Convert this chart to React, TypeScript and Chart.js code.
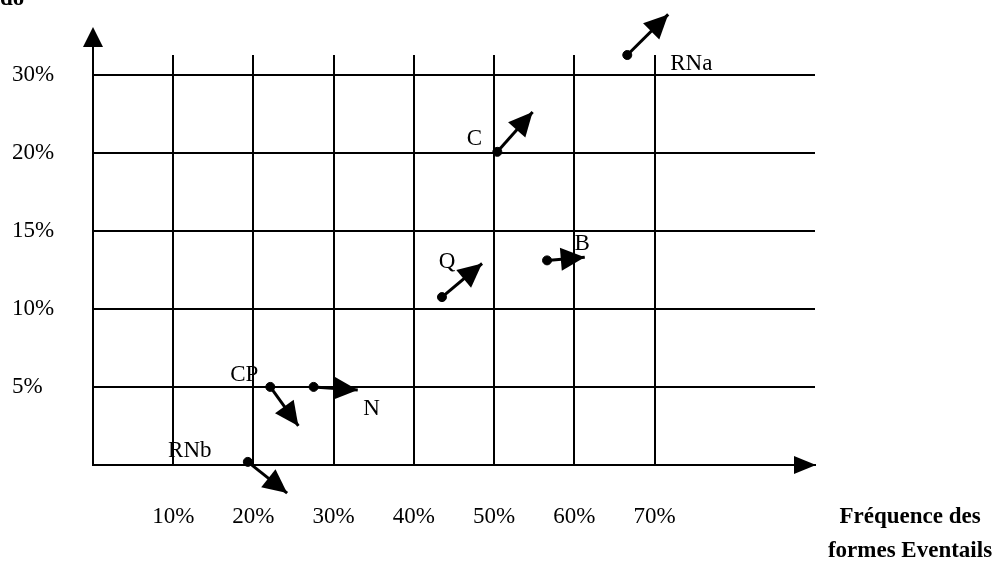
import React, { useEffect, useRef } from "react";
import { Chart, registerables } from "chart.js";

Chart.register(...registerables);

// ---- data ----
const pointNames = ["RNa", "C", "Q", "B", "CP", "N", "RNb"];
const startX = [66.6, 50.4, 43.5, 56.6, 22.1, 27.5, 19.3];
const startY = [32.5, 20.1, 10.75, 13.1, 5.0, 5.0, 0.2];
const endX = [71.7, 54.8, 48.5, 61.3, 25.6, 33.0, 24.2];
const endY = [37.7, 25.2, 12.9, 13.3, 2.5, 4.8, -1.8];

const xTickValues = [0, 10, 20, 30, 40, 50, 60, 70];
const xTickLabels = ["", "10%", "20%", "30%", "40%", "50%", "60%", "70%"];
const yLevels = [0, 5, 10, 15, 20, 30];
const yTickLabels = ["", "5%", "10%", "15%", "20%", "30%"];
const xTitleLines = ["Fréquence des", "formes Eventails"];
const yTitleFragment = "do";

// ---- style / placement (not data) ----
const FONT = "'Liberation Serif', 'Times New Roman', serif";
const labelOffsets: [number, number, CanvasTextAlign][] = [
  [43, 9, "left"],
  [-23, -13, "center"],
  [5, -35, "center"],
  [35, -16, "center"],
  [-26, -12, "center"],
  [58, 22, "center"],
  [-58, -11, "center"],
];

function toIndex(v: number): number {
  const n = yLevels.length;
  if (v <= yLevels[1]) return (v - yLevels[0]) / (yLevels[1] - yLevels[0]);
  for (let i = 1; i < n - 1; i++) {
    if (v <= yLevels[i + 1]) return i + (v - yLevels[i]) / (yLevels[i + 1] - yLevels[i]);
  }
  return n - 1 + (v - yLevels[n - 1]) / (yLevels[n - 1] - yLevels[n - 2]);
}

function tri(ctx: CanvasRenderingContext2D, tipX: number, tipY: number, dx: number, dy: number, len: number, half: number) {
  const d = Math.hypot(dx, dy) || 1;
  const ux = dx / d, uy = dy / d;
  const bx = tipX - ux * len, by = tipY - uy * len;
  ctx.beginPath();
  ctx.moveTo(tipX, tipY);
  ctx.lineTo(bx - uy * half, by + ux * half);
  ctx.lineTo(bx + uy * half, by - ux * half);
  ctx.closePath();
  ctx.fill();
}

const decorPlugin = {
  id: "decor",
  afterDatasetsDraw(chart: any) {
    const ctx: CanvasRenderingContext2D = chart.ctx;
    const area = chart.chartArea;
    ctx.save();
    ctx.fillStyle = "#000";
    ctx.strokeStyle = "#000";
    // arrowheads for evolution arrows
    pointNames.forEach((_, i) => {
      const meta = chart.getDatasetMeta(i);
      const p0 = meta.data[0], p1 = meta.data[1];
      tri(ctx, p1.x, p1.y, p1.x - p0.x, p1.y - p0.y, 24, 11.5);
    });
    // point labels
    const ptsMeta = chart.getDatasetMeta(pointNames.length);
    ctx.font = `23px ${FONT}`;
    ctx.textBaseline = "middle";
    pointNames.forEach((name, i) => {
      const p = ptsMeta.data[i];
      const [ox, oy, al] = labelOffsets[i];
      ctx.textAlign = al;
      ctx.fillText(name, p.x + ox, p.y + oy);
    });
    // axis arrows
    ctx.lineWidth = 2;
    ctx.beginPath();
    ctx.moveTo(area.left, area.top);
    ctx.lineTo(area.left, area.top - 12);
    ctx.stroke();
    tri(ctx, area.left, area.top - 28, 0, -1, 20, 10);
    tri(ctx, area.right + 1, area.bottom, 1, 0, 22, 9);
    // titles
    ctx.font = `bold 23px ${FONT}`;
    ctx.textAlign = "center";
    ctx.textBaseline = "middle";
    ctx.fillText(xTitleLines[0], area.right + 95, area.bottom + 52);
    ctx.fillText(xTitleLines[1], area.right + 95, area.bottom + 86);
    ctx.textAlign = "left";
    ctx.textBaseline = "alphabetic";
    ctx.fillText(yTitleFragment, 0, 5);
    ctx.restore();
  },
};

export default function App() {
  const ref = useRef<HTMLCanvasElement | null>(null);
  useEffect(() => {
    if (!ref.current) return;
    const arrowSets = pointNames.map((name, i) => ({
      label: name,
      data: [
        { x: startX[i], y: toIndex(startY[i]) },
        { x: endX[i], y: toIndex(endY[i]) },
      ],
      showLine: true,
      borderColor: "#000",
      borderWidth: 3,
      pointRadius: 0,
      clip: false as any,
    }));
    const pointSet = {
      label: "points",
      data: pointNames.map((_, i) => ({ x: startX[i], y: toIndex(startY[i]) })),
      pointRadius: 4.5,
      backgroundColor: "#000",
      borderColor: "#000",
      clip: false as any,
    };
    const chart = new Chart(ref.current, {
      type: "scatter",
      data: { datasets: [...arrowSets, pointSet] as any },
      options: {
        animation: false,
        responsive: false,
        layout: { padding: { left: 12, top: 55, right: 185, bottom: 0 } },
        plugins: { legend: { display: false }, tooltip: { enabled: false } },
        scales: {
          x: {
            type: "linear",
            min: 0,
            max: 90,
            afterBuildTicks: (s: any) => {
              s.ticks = xTickValues.map((v) => ({ value: v }));
            },
            afterFit: (s: any) => {
              s.height = 103;
            },
            grid: { color: "#000", lineWidth: 2, drawTicks: false },
            border: { display: true, color: "#000", width: 2 },
            ticks: {
              padding: 38,
              color: "#000",
              font: { family: FONT, size: 23 },
              callback: (v: any) => xTickLabels[xTickValues.indexOf(Number(v))] ?? "",
              maxRotation: 0,
              autoSkip: false,
            },
          },
          y: {
            type: "linear",
            min: 0,
            max: 5.25,
            afterBuildTicks: (s: any) => {
              s.ticks = yTickLabels.map((_, i) => ({ value: i }));
            },
            afterFit: (s: any) => {
              s.width = 81;
            },
            grid: { color: "#000", lineWidth: 2, drawTicks: false },
            border: { display: true, color: "#000", width: 2 },
            ticks: {
              crossAlign: "far",
              color: "#000",
              font: { family: FONT, size: 23 },
              callback: (v: any) => yTickLabels[Math.round(Number(v))] ?? "",
              autoSkip: false,
            },
          },
        },
      },
      plugins: [decorPlugin],
    });
    return () => chart.destroy();
  }, []);
  return (
    <div style={{ position: "fixed", left: 0, top: 0, width: 1000, height: 568, background: "#fff" }}>
      <canvas ref={ref} width={1000} height={568} />
    </div>
  );
}
